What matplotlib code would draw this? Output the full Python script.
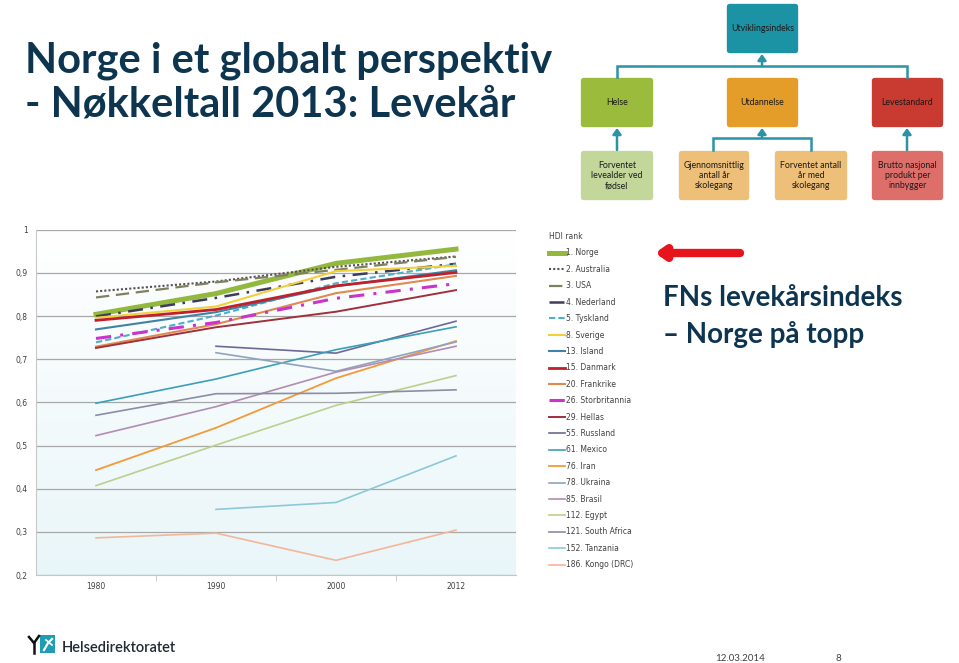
import matplotlib
matplotlib.use("Agg")
import matplotlib.pyplot as plt
import numpy as np
from matplotlib.patches import FancyBboxPatch, Rectangle
from matplotlib.colors import LinearSegmentedColormap

# HDI values (UNDP HDR 2013)
years = ["1980", "1990", "2000", "2012"]
norge = [0.804, 0.852, 0.922, 0.955]
australia = [0.857, 0.880, 0.914, 0.938]
usa = [0.843, 0.878, 0.907, 0.937]
nederland = [0.799, 0.842, 0.891, 0.921]
tyskland = [0.739, 0.801, 0.876, 0.920]
sverige = [0.796, 0.822, 0.904, 0.916]
island = [0.769, 0.809, 0.869, 0.906]
danmark = [0.790, 0.815, 0.870, 0.901]
frankrike = [0.729, 0.781, 0.853, 0.893]
storbritannia = [0.748, 0.785, 0.841, 0.875]
hellas = [0.726, 0.774, 0.810, 0.860]
russland = [np.nan, 0.730, 0.714, 0.788]
mexico = [0.598, 0.654, 0.722, 0.775]
iran = [0.443, 0.541, 0.656, 0.742]
ukraina = [np.nan, 0.715, 0.672, 0.740]
brasil = [0.523, 0.590, 0.670, 0.730]
egypt = [0.407, 0.501, 0.593, 0.662]
south_africa = [0.570, 0.620, 0.621, 0.629]
tanzania = [np.nan, 0.352, 0.368, 0.476]
kongo = [0.286, 0.297, 0.234, 0.304]

labels = ["1. Norge", "2. Australia", "3. USA", "4. Nederland", "5. Tyskland",
          "8. Sverige", "13. Island", "15. Danmark", "20. Frankrike",
          "26. Storbritannia", "29. Hellas", "55. Russland", "61. Mexico",
          "76. Iran", "78. Ukraina", "85. Brasil", "112. Egypt",
          "121. South Africa", "152. Tanzania", "186. Kongo (DRC)"]
series = [norge, australia, usa, nederland, tyskland, sverige, island, danmark,
          frankrike, storbritannia, hellas, russland, mexico, iran, ukraina,
          brasil, egypt, south_africa, tanzania, kongo]

styles = [
    ("#92B83E", "-", 3.6),
    ("#5A5050", (0, (1, 1)), 1.5),
    ("#7E8060", (0, (6, 3)), 1.6),
    ("#3C3C5C", (0, (6, 3, 1, 3)), 1.8),
    ("#4BB0C8", (0, (3, 1.5)), 1.5),
    ("#F2D03C", "-", 1.5),
    ("#3F82A6", "-", 1.5),
    ("#C0202A", "-", 2.0),
    ("#E08A50", "-", 1.5),
    ("#CC33CC", (0, (5, 3, 1, 3)), 2.2),
    ("#A0303C", "-", 1.4),
    ("#6A6A98", "-", 1.2),
    ("#3AA0B8", "-", 1.2),
    ("#F29A38", "-", 1.3),
    ("#8FA2BE", "-", 1.2),
    ("#B28CB2", "-", 1.2),
    ("#BCCF8C", "-", 1.2),
    ("#8C8CA4", "-", 1.2),
    ("#8CC8D8", "-", 1.2),
    ("#F4B698", "-", 1.2),
]

W, H = 959, 663
fig = plt.figure(figsize=(W / 100, H / 100), dpi=100)
fig.patch.set_facecolor("white")

# full-slide overlay in pixel coordinates
bg = fig.add_axes([0, 0, 1, 1])
bg.set_xlim(0, W)
bg.set_ylim(H, 0)
bg.axis("off")

navy = "#0E3550"
bg.text(25, 72, "Norge i et globalt perspektiv", fontsize=30, fontweight="bold",
        family="Lato", color=navy, va="baseline", ha="left")
bg.text(25, 116, "- Nøkkeltall 2013: Levekår", fontsize=30, fontweight="bold",
        family="Lato", color=navy, va="baseline", ha="left")

bg.text(663, 306, "FNs levekårsindeks", fontsize=20, fontweight="bold",
        family="Lato", color=navy, va="baseline", ha="left")
bg.text(663, 343, "– Norge på topp", fontsize=20, fontweight="bold",
        family="Lato", color=navy, va="baseline", ha="left")

# red arrow pointing at the chart
bg.annotate("", xy=(655, 253), xytext=(740, 253),
            arrowprops=dict(arrowstyle="-|>,head_length=0.5,head_width=0.35",
                            color="#E8141B", lw=6, shrinkA=0, shrinkB=0))

# HDI component diagram
boxes = [
    (726, 3, 73, 51, "#1B93A4", "Utviklingsindeks"),
    (580, 77, 74, 51, "#9BBB3C", "Helse"),
    (726, 77, 73, 51, "#E59D29", "Utdannelse"),
    (871, 77, 73, 51, "#C93A30", "Levestandard"),
    (580, 150, 74, 51, "#C3D79A", "Forventet\nlevealder ved\nfødsel"),
    (678, 150, 72, 51, "#EDBF78", "Gjennomsnittlig\nantall år\nskolegang"),
    (774, 150, 74, 51, "#EDBF78", "Forventet antall\når med\nskolegang"),
    (871, 150, 73, 51, "#DE6E69", "Brutto nasjonal\nprodukt per\ninnbygger"),
]
for x, y, w, h, c, t in boxes:
    bg.add_patch(FancyBboxPatch((x + 3, y + 3), w - 6, h - 6,
                                boxstyle="round,pad=3,rounding_size=4",
                                fc=c, ec="white", lw=1.2))
    bg.text(x + w / 2, y + h / 2, t, fontsize=6.3, family="Lato",
            color="#1A1A1A", ha="center", va="center", linespacing=1.15)

teal = "#2A93A5"
bg.plot([617, 617, 907, 907], [77, 66, 66, 77], color=teal, lw=1.8,
        solid_joinstyle="miter")
bg.plot([713, 713, 811, 811], [150, 138, 138, 150], color=teal, lw=1.8,
        solid_joinstyle="miter")
arrow_kw = dict(arrowstyle="-|>,head_length=0.35,head_width=0.25", color=teal,
                lw=1.8, shrinkA=0, shrinkB=0)
bg.annotate("", xy=(762, 54), xytext=(762, 66), arrowprops=arrow_kw)
bg.annotate("", xy=(617, 128), xytext=(617, 150), arrowprops=arrow_kw)
bg.annotate("", xy=(762, 128), xytext=(762, 138), arrowprops=arrow_kw)
bg.annotate("", xy=(907, 128), xytext=(907, 150), arrowprops=arrow_kw)

# footer: logo, date, page number
bg.add_patch(Rectangle((40, 635), 15, 18, fc="#1E9DB3", ec="none"))
bg.plot([44, 48, 52], [650, 643, 639], color="white", lw=1.6)
bg.plot([46, 52], [640, 645], color="white", lw=1.2)
bg.plot([29, 34, 39], [637, 643, 636], color="#111111", lw=1.8)
bg.plot([34, 34], [643, 653], color="#111111", lw=1.8)
bg.text(62, 652, "Helsedirektoratet", fontsize=10.5, family="Lato",
        fontweight="semibold", color="#1F2A35", va="baseline", ha="left")
bg.text(740, 661, "12.03.2014", fontsize=7, family="Lato", color="#404040",
        ha="center", va="baseline")
bg.text(838, 661, "8", fontsize=7, family="Lato", color="#404040",
        ha="center", va="baseline")

# chart
ax = fig.add_axes([36 / W, 1 - 575 / H, 480 / W, 345.3 / H])
grad = np.linspace(0, 1, 256).reshape(-1, 1)
cmap = LinearSegmentedColormap.from_list("bgfill", ["#E9F6F9", "#FFFFFF"])
ax.imshow(grad, extent=[-0.5, 3.5, 0.2, 1.0], aspect="auto", cmap=cmap,
          origin="lower", zorder=0)

x = np.arange(len(years))
handles = []
for vals, (c, ls, lw), lab in zip(series, styles, labels):
    h, = ax.plot(x, vals, color=c, linestyle=ls, linewidth=lw, label=lab,
                 zorder=3)
    handles.append(h)

ax.set_xlim(-0.5, 3.5)
ax.set_ylim(0.2, 1.0)
yt = np.round(np.arange(0.2, 1.01, 0.1), 1)
ax.set_yticks(yt)
ax.set_yticklabels([("%.1f" % v).replace(".", ",") if v < 1 else "1" for v in yt])
ax.set_xticks(x)
ax.set_xticklabels(years)
ax.set_xticks(np.arange(0.5, 3.0, 1.0), minor=True)
ax.grid(axis="y", color="#A8A8A8", lw=0.9, zorder=1)
ax.set_axisbelow(True)
for s in ["top", "right"]:
    ax.spines[s].set_visible(False)
ax.spines["left"].set_color("#C8C8C8")
ax.spines["bottom"].set_color("#BFC8CC")
ax.tick_params(axis="y", length=0, pad=6, labelsize=5.5, labelcolor="#404040")
ax.tick_params(axis="x", which="major", length=0, pad=5, labelsize=5.5,
               labelcolor="#404040")
ax.tick_params(axis="x", which="minor", length=4, color="#BFC8CC")

leg = fig.legend(handles=handles, loc="upper left",
                 bbox_to_anchor=(546 / W, 1 - 229 / H), frameon=False,
                 title="HDI rank", alignment="left", fontsize=5.5,
                 title_fontsize=5.5, handlelength=2.1, handletextpad=0.1,
                 labelspacing=0.97, borderaxespad=0)
for t in leg.get_texts():
    t.set_color("#404040")
leg.get_title().set_color("#404040")

fig.savefig("out.png", dpi=100, facecolor="white")
